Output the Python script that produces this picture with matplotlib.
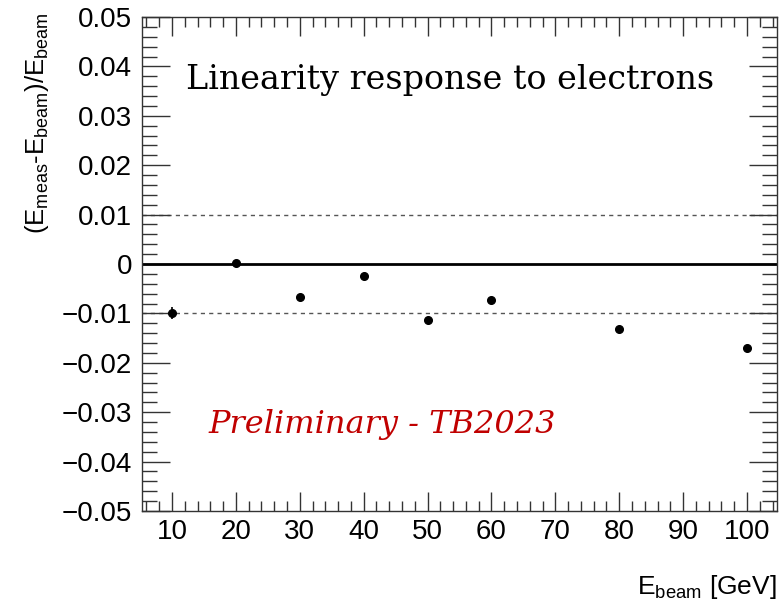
import matplotlib
matplotlib.use("Agg")
import matplotlib.pyplot as plt
from matplotlib.ticker import MultipleLocator

plt.rcParams['font.family'] = ['Liberation Sans', 'DejaVu Sans']
plt.rcParams['mathtext.fontset'] = 'custom'
plt.rcParams['mathtext.rm'] = 'Liberation Sans'
plt.rcParams['mathtext.it'] = 'Liberation Sans:italic'
plt.rcParams['mathtext.bf'] = 'Liberation Sans:bold'

# Data
energies = [10, 20, 30, 40, 50, 60, 80, 100]
residuals = [-0.0100, 0.0002, -0.0067, -0.0024, -0.0113, -0.0073, -0.0132, -0.0171]
errors = [0.0012, 0.0003, 0.0003, 0.0003, 0.0003, 0.0003, 0.0003, 0.0003]
x_ticks = [10, 20, 30, 40, 50, 60, 70, 80, 90, 100]
y_ticks = [-0.05, -0.04, -0.03, -0.02, -0.01, 0, 0.01, 0.02, 0.03, 0.04, 0.05]
y_tick_labels = ["\u22120.05", "\u22120.04", "\u22120.03", "\u22120.02", "\u22120.01", "0",
                 "0.01", "0.02", "0.03", "0.04", "0.05"]

fig = plt.figure(figsize=(7.81, 6.02), dpi=100)
ax = fig.add_axes([142/781, 1 - 511/602, (777-142)/781, (511-17)/602])

ax.set_xlim(5.3, 104.7)
ax.set_ylim(-0.05, 0.05)

ax.axhline(0, color='black', lw=2, zorder=2)
ax.axhline(0.01, color='#555555', lw=1, ls=(0, (3, 3)), zorder=1)
ax.axhline(-0.01, color='#555555', lw=1, ls=(0, (3, 3)), zorder=1)

ax.errorbar(energies, residuals, yerr=errors, fmt='o', color='black',
            markersize=5.5, elinewidth=1.2, capsize=0, zorder=3)

ax.set_xticks(x_ticks)
ax.set_yticks(y_ticks)
ax.set_yticklabels(y_tick_labels)
ax.xaxis.set_minor_locator(MultipleLocator(2))
ax.yaxis.set_minor_locator(MultipleLocator(0.002))

ax.tick_params(axis='both', which='both', direction='in', top=True, right=True,
               color='#333333', width=1)
ax.tick_params(axis='x', which='major', length=14, labelsize=20, pad=6)
ax.tick_params(axis='x', which='minor', length=7)
ax.tick_params(axis='y', which='major', length=20, labelsize=20, pad=7)
ax.tick_params(axis='y', which='minor', length=11)
for s in ax.spines.values():
    s.set_color('#333333')
    s.set_linewidth(1)

fig.text(777/781, 1 - 601/602, r"E$_{\mathrm{beam}}$ [GeV]", ha='right', va='bottom', fontsize=19)
fig.text(37/781, 1 - 12/602, r"(E$_{\mathrm{meas}}$-E$_{\mathrm{beam}}$)/E$_{\mathrm{beam}}$",
         rotation=90, ha='center', va='top', fontsize=18.5)

ax.text(186/781, 1 - 89/602, "Linearity response to electrons", transform=fig.transFigure,
        family='DejaVu Serif', fontsize=24, ha='left', va='baseline', color='black')
ax.text(208/781, 1 - 433/602, "Preliminary - TB2023", transform=fig.transFigure,
        family='DejaVu Serif', style='italic', fontsize=23, ha='left', va='baseline',
        color='#c00000')

fig.savefig("out.png", dpi=100)
